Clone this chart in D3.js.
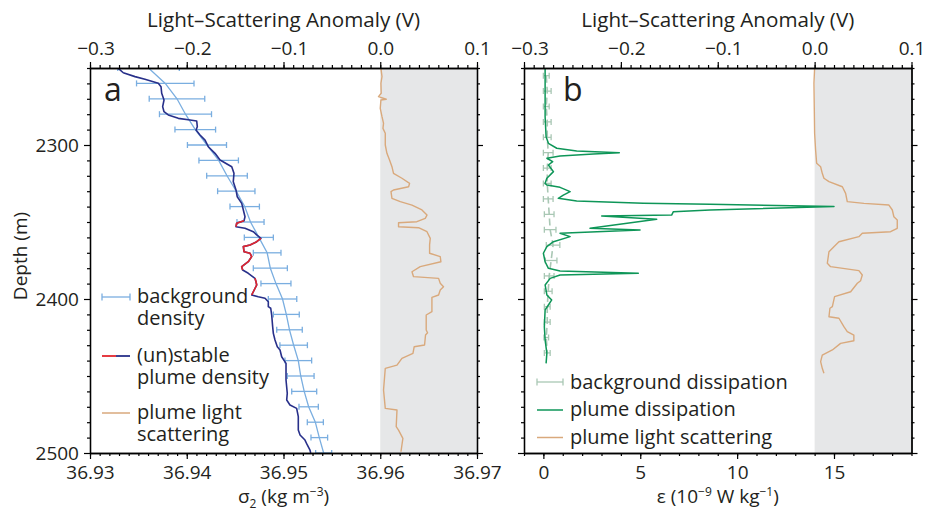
<!DOCTYPE html>
<html><head><meta charset="utf-8">
<script src="https://cdn.jsdelivr.net/npm/d3@7"></script>
<style>
body{margin:0;background:#fff}
svg{display:block}
text{font-family:'Open Sans',sans-serif;fill:#231f20}
</style>
</head><body>
<svg id="c" width="937" height="514"></svg>
<script>
// ---------- DATA ----------
// Panel a: background density (every 10 m) with error bars
const bgDepth = [2250,2260,2270,2280,2290,2300,2310,2320,2330,2340,2350,2360,2370,2380,2390,2400,2410,2420,2430,2440,2450,2460,2470,2480,2490,2500];
const bgSigma = [36.93605,36.93778,36.93899,36.93987,36.94088,36.94209,36.94330,36.94416,36.94512,36.94599,36.94659,36.94745,36.94831,36.94864,36.94922,36.94990,36.95029,36.95062,36.95105,36.95153,36.95178,36.95214,36.95260,36.95329,36.95370,36.95415];
const bgSigmaErr = [0.00318,0.00297,0.00287,0.00269,0.00210,0.00202,0.00204,0.00210,0.00193,0.00152,0.00140,0.00150,0.00143,0.00176,0.00155,0.00147,0.00134,0.00132,0.00142,0.00138,0.00138,0.00129,0.00100,0.00083,0.00086,0.00083];

// Panel a: plume density profile
const plumeDepth = [2250.2,2253.1,2255.6,2257.3,2259.9,2262.1,2266.4,2270.8,2275.1,2278.4,2280.5,2282.7,2283.8,2284.4,2288.1,2290.3,2293.5,2296.8,2301.1,2305.4,2309.7,2314.1,2318.4,2323.8,2329.2,2333.6,2337.9,2342.2,2346.6,2349.2,2350.8,2353.1,2354.1,2356.3,2358.4,2360.6,2362.8,2364.9,2366.0,2369.3,2370.3,2372.5,2375.8,2379.0,2381.2,2383.3,2386.6,2388.8,2390.9,2395.3,2397.4,2398.5,2399.5,2401.8,2405.0,2406.0,2410.4,2418.0,2422.3,2426.6,2431.0,2433.1,2437.5,2441.8,2452.6,2461.2,2465.6,2468.8,2471.0,2476.4,2485.1,2488.3,2491.6,2494.8,2498.1,2500];
const plumeSigma = [36.93292,36.93344,36.93465,36.93568,36.93706,36.93734,36.93741,36.93765,36.93751,36.93765,36.93809,36.93913,36.94034,36.94103,36.94109,36.94096,36.94137,36.94189,36.94223,36.94292,36.94344,36.94465,36.94488,36.94481,36.94509,36.94522,36.94568,36.94585,36.94602,36.94592,36.94516,36.94509,36.94602,36.94688,36.94723,36.94767,36.94723,36.94654,36.94585,36.94592,36.94654,36.94671,36.94636,36.94568,36.94578,36.94636,36.94705,36.94716,36.94723,36.94688,36.94671,36.94739,36.94809,36.94843,36.94843,36.94868,36.94878,36.94888,36.94895,36.94912,36.94936,36.94964,36.94981,36.95026,36.95026,36.95039,36.95033,36.95067,36.95136,36.95153,36.95153,36.95171,36.95222,36.95246,36.95274,36.95281];
// depth ranges where plume density is unstable (drawn red)
const unstableRanges = [[2349.0,2353.5],[2360.5,2381.5],[2386.5,2397.5]];

// Panel a: light scattering anomaly (V)
const lsaDepth = [2250.2,2255.6,2259.9,2266.4,2268.6,2270.3,2270.8,2276.2,2281.6,2285.9,2289.2,2292.4,2300.0,2305.4,2309.7,2314.1,2318.4,2321.6,2324.9,2327.1,2329.2,2330.3,2334.6,2336.8,2339.0,2342.2,2345.5,2347.6,2349.8,2350.5,2353.1,2353.7,2356.3,2360.6,2364.9,2370.3,2372.5,2375.8,2379.0,2382.3,2385.5,2386.6,2389.8,2392.0,2394.2,2397.4,2398.9,2408.2,2410.4,2420.1,2421.9,2423.4,2429.9,2431.0,2435.3,2438.5,2442.9,2445.0,2459.1,2471.0,2472.1,2482.9,2485.1,2490.5,2494.8,2499.2];
const lsaValue = [0.0007,0.0018,0.0007,0.0010,-0.0018,0.0062,0.0007,0.0000,0.0018,0.0034,0.0028,0.0052,0.0052,0.0069,0.0096,0.0121,0.0137,0.0224,0.0303,0.0293,0.0137,0.0111,0.0121,0.0207,0.0328,0.0431,0.0483,0.0465,0.0379,0.0189,0.0189,0.0396,0.0483,0.0517,0.0510,0.0510,0.0620,0.0627,0.0413,0.0328,0.0344,0.0603,0.0620,0.0654,0.0620,0.0603,0.0534,0.0534,0.0475,0.0475,0.0489,0.0468,0.0458,0.0351,0.0338,0.0224,0.0173,0.0052,0.0034,0.0052,0.0173,0.0165,0.0189,0.0234,0.0224,0.0214];

// Panel b: background dissipation (10^-9 W/kg) with error bars
const bgEpsDepth = [2255,2265,2275,2285,2295,2305,2315,2325,2335,2345,2355,2365,2375,2385,2395,2405,2415,2425,2435];
const bgEps = [0.15,0.20,0.15,0.20,0.20,0.25,0.20,0.20,0.25,0.30,0.35,0.50,0.40,0.30,0.25,0.20,0.20,0.15,0.20];
const bgEpsErr = [0.15,0.20,0.15,0.20,0.20,0.25,0.20,0.20,0.25,0.25,0.30,0.35,0.30,0.25,0.20,0.15,0.15,0.12,0.15];

// Panel b: plume dissipation
const epsDepth = [2250.2,2281.6,2294.6,2298.9,2302.1,2303.9,2305.0,2305.8,2307.1,2308.6,2310.8,2313.0,2317.3,2321.6,2324.9,2326.0,2327.5,2330.3,2332.5,2334.6,2336.4,2337.9,2338.5,2339.9,2342.2,2343.3,2345.5,2346.1,2348.2,2354.1,2355.2,2357.3,2359.5,2362.8,2366.0,2370.3,2375.8,2380.1,2381.8,2383.3,2384.4,2386.6,2390.9,2397.4,2400.6,2403.9,2407.1,2418.0,2426.6,2435.3,2441.8];
const epsValue = [0.09,0.09,0.14,0.26,0.69,1.72,3.92,2.58,0.86,0.18,0.48,0.26,0.52,0.18,0.09,0.18,0.86,1.38,1.03,0.77,1.72,5.16,8.60,15.0,8.60,6.71,6.62,3.01,5.85,2.41,4.99,0.86,1.38,0.52,0.18,0.00,0.09,0.26,0.86,4.90,0.86,0.35,0.09,0.18,0.43,0.26,0.09,0.05,0.09,0.18,0.14];

// Panel b: light scattering anomaly (V)
const lsbDepth = [2250.2,2259.9,2292.4,2303.2,2311.9,2314.1,2318.4,2321.6,2323.8,2327.1,2331.4,2336.8,2337.9,2339.0,2342.2,2346.6,2348.7,2354.1,2356.3,2357.3,2359.5,2362.8,2366.0,2369.3,2376.8,2379.0,2381.6,2384.4,2388.1,2389.8,2395.3,2398.5,2405.0,2406.0,2411.5,2412.5,2418.0,2421.2,2423.4,2427.1,2428.8,2433.1,2436.4,2440.7,2445.0,2448.2];
const lsbValue = [0.0000,-0.0007,0.0000,0.0010,0.0021,0.0062,0.0079,0.0096,0.0148,0.0286,0.0320,0.0337,0.0509,0.0767,0.0802,0.0818,0.0853,0.0853,0.0784,0.0492,0.0457,0.0251,0.0199,0.0148,0.0131,0.0165,0.0457,0.0492,0.0475,0.0441,0.0372,0.0206,0.0183,0.0158,0.0148,0.0251,0.0302,0.0337,0.0405,0.0405,0.0268,0.0183,0.0079,0.0062,0.0079,0.0096];

// Axis ticks / labels
const depthMajor = [2300,2400,2500];
const depthMinor = [2250,2260,2270,2280,2290,2310,2320,2330,2340,2350,2360,2370,2380,2390,2410,2420,2430,2440,2450,2460,2470,2480,2490];
const lsMajor = [-0.3,-0.2,-0.1,0.0,0.1];
const sigmaMajor = [36.93,36.94,36.95,36.96,36.97];
const epsMajor = [0,5,10,15];

// ---------- STYLE / LAYOUT ----------
const C = {lightBlue:"#7aaee0", navy:"#28308a", red:"#e3262e", tan:"#d9a97c", green:"#0e9658", bgDiss:"#a9c7b4", gray:"#e6e7e8"};
const FS = 19, LFS = 20;
const A = {x0:90, x1:477, y0:68, y1:453};
const B = {x0:524, x1:911.5, y0:68, y1:453};

const svg = d3.select("#c");
const y = d3.scaleLinear().domain([2250,2500]).range([A.y0, A.y1]);
const xSig = d3.scaleLinear().domain([36.93,36.97]).range([A.x0, A.x1]);
const xLa = d3.scaleLinear().domain([-0.3,0.1]).range([A.x0, A.x1]);
const xEps = d3.scaleLinear().domain([-1,19]).range([B.x0, B.x1]);
const xLb = d3.scaleLinear().domain([-0.3,0.1]).range([B.x0, B.x1]);

svg.append("rect").attr("x", xLa(0)).attr("y", A.y0).attr("width", A.x1 - xLa(0)).attr("height", A.y1 - A.y0).attr("fill", C.gray);
svg.append("rect").attr("x", xLb(0)).attr("y", B.y0).attr("width", B.x1 - xLb(0)).attr("height", B.y1 - B.y0).attr("fill", C.gray);

const defs = svg.append("defs");
defs.append("clipPath").attr("id","clipA").append("rect").attr("x",A.x0).attr("y",A.y0).attr("width",A.x1-A.x0).attr("height",A.y1-A.y0);
defs.append("clipPath").attr("id","clipB").append("rect").attr("x",B.x0).attr("y",B.y0).attr("width",B.x1-B.x0).attr("height",B.y1-B.y0);

const gA = svg.append("g").attr("clip-path","url(#clipA)");
const gB = svg.append("g").attr("clip-path","url(#clipB)");

// ---- Panel a ----
gA.append("path").datum(d3.range(lsaDepth.length))
  .attr("d", d3.line().x(i => xLa(lsaValue[i])).y(i => y(lsaDepth[i])))
  .attr("fill","none").attr("stroke",C.tan).attr("stroke-width",1.4).attr("stroke-linejoin","round");

gA.append("path").datum(d3.range(bgDepth.length))
  .attr("d", d3.line().x(i => xSig(bgSigma[i])).y(i => y(bgDepth[i])))
  .attr("fill","none").attr("stroke",C.lightBlue).attr("stroke-width",1.3);
const eb = gA.append("g").attr("stroke",C.lightBlue).attr("stroke-width",1.3);
bgDepth.forEach((d,i) => {
  const yy = y(d), xl = xSig(bgSigma[i]-bgSigmaErr[i]), xr = xSig(bgSigma[i]+bgSigmaErr[i]);
  eb.append("line").attr("x1",xl).attr("x2",xr).attr("y1",yy).attr("y2",yy);
  eb.append("line").attr("x1",xl).attr("x2",xl).attr("y1",yy-3).attr("y2",yy+3);
  eb.append("line").attr("x1",xr).attr("x2",xr).attr("y1",yy-3).attr("y2",yy+3);
});

const plumeLine = d3.line().x(i => xSig(plumeSigma[i])).y(i => y(plumeDepth[i]));
gA.append("path").datum(d3.range(plumeDepth.length)).attr("d", plumeLine)
  .attr("fill","none").attr("stroke",C.navy).attr("stroke-width",1.6).attr("stroke-linejoin","round");
unstableRanges.forEach(([a,b]) => {
  const idx = d3.range(plumeDepth.length).filter(i => plumeDepth[i] >= a && plumeDepth[i] <= b);
  gA.append("path").datum(idx).attr("d", plumeLine)
    .attr("fill","none").attr("stroke",C.red).attr("stroke-width",1.6).attr("stroke-linejoin","round");
});

// ---- Panel b ----
gB.append("path").datum(d3.range(lsbDepth.length))
  .attr("d", d3.line().x(i => xLb(lsbValue[i])).y(i => y(lsbDepth[i])))
  .attr("fill","none").attr("stroke",C.tan).attr("stroke-width",1.4).attr("stroke-linejoin","round");

gB.append("path").datum(d3.range(bgEpsDepth.length))
  .attr("d", d3.line().x(i => xEps(bgEps[i])).y(i => y(bgEpsDepth[i])))
  .attr("fill","none").attr("stroke",C.bgDiss).attr("stroke-width",1.6).attr("stroke-dasharray","7,4");
const eb2 = gB.append("g").attr("stroke",C.bgDiss).attr("stroke-width",1.3);
bgEpsDepth.forEach((d,i) => {
  const yy = y(d), xl = xEps(bgEps[i]-bgEpsErr[i]), xr = xEps(bgEps[i]+bgEpsErr[i]);
  eb2.append("line").attr("x1",xl).attr("x2",xr).attr("y1",yy).attr("y2",yy);
  eb2.append("line").attr("x1",xl).attr("x2",xl).attr("y1",yy-3).attr("y2",yy+3);
  eb2.append("line").attr("x1",xr).attr("x2",xr).attr("y1",yy-3).attr("y2",yy+3);
});

gB.append("path").datum(d3.range(epsDepth.length))
  .attr("d", d3.line().x(i => xEps(epsValue[i])).y(i => y(epsDepth[i])))
  .attr("fill","none").attr("stroke",C.green).attr("stroke-width",1.5).attr("stroke-linejoin","round");

// ---------- AXES ----------
function range(a,b,s){ const r=[]; for(let v=a; v<=b+1e-9; v+=s) r.push(+v.toFixed(4)); return r; }
function drawAxis(orient, scale, tx, ty, major, minor, fmt, pad){
  const mk = {top:d3.axisTop,bottom:d3.axisBottom,left:d3.axisLeft,right:d3.axisRight}[orient];
  const g1 = svg.append("g").attr("transform",`translate(${tx},${ty})`)
    .call(mk(scale).tickValues(minor).tickSize(3).tickSizeOuter(0).tickFormat(""));
  const g2 = svg.append("g").attr("transform",`translate(${tx},${ty})`)
    .call(mk(scale).tickValues(major).tickSize(6).tickSizeOuter(0).tickPadding(pad||6).tickFormat(fmt || (() => "")));
  [g1,g2].forEach(g => {
    g.selectAll("path.domain").attr("stroke","#000").attr("stroke-width",1.3);
    g.selectAll(".tick line").attr("stroke","#000").attr("stroke-width",1.2);
    g.selectAll("text").style("font-size",FS+"px").style("font-family","'Open Sans',sans-serif");
  });
  // negative labels: number part centred on the tick, minus sign hanging left
  if (orient === "top" || orient === "bottom")
    g2.selectAll(".tick text").attr("dx", d => d < 0 ? "0.29em" : null);
}
const fmtLS = d => d3.format(".1f")(d);
const lsMinor = range(-0.3,0.1,0.01);
drawAxis("top", xLa, 0, A.y0, lsMajor, lsMinor, fmtLS, 7);
drawAxis("bottom", xSig, 0, A.y1, sigmaMajor, range(36.93,36.97,0.001), d3.format(".2f"), 7);
drawAxis("left", y, A.x0, 0, depthMajor, depthMinor, d => d, 5);
drawAxis("right", y, A.x1, 0, depthMajor, depthMinor, null);
drawAxis("top", xLb, 0, B.y0, lsMajor, lsMinor, fmtLS, 7);
drawAxis("bottom", xEps, 0, B.y1, epsMajor, range(-1,19,1), d => d, 7);
drawAxis("left", y, B.x0, 0, depthMajor, depthMinor, null);
drawAxis("right", y, B.x1, 0, depthMajor, depthMinor, null);

// ---------- LABELS ----------
const T = (x, yy, s, opt={}) => {
  const t = svg.append("text").attr("x",x).attr("y",yy).attr("text-anchor",opt.anchor||"start")
    .style("font-size",(opt.size||FS)+"px").text(s);
  if (opt.len) t.attr("textLength", opt.len).attr("lengthAdjust","spacingAndGlyphs");
  return t;
};
T((A.x0+A.x1)/2, 27, "Light\u2013Scattering Anomaly (V)", {anchor:"middle", size:20, len:273});
T((B.x0+B.x1)/2, 27, "Light\u2013Scattering Anomaly (V)", {anchor:"middle", size:20, len:273});
svg.append("text").attr("transform","translate(27,256) rotate(-90)").attr("text-anchor","middle").style("font-size",FS+"px").text("Depth (m)");

const sl = svg.append("text").attr("x",(A.x0+A.x1)/2).attr("y",503).attr("text-anchor","middle").style("font-size",FS+"px");
sl.append("tspan").text("σ");
sl.append("tspan").attr("dy",5).style("font-size","12px").text("2");
sl.append("tspan").attr("dy",-5).text(" (kg m");
sl.append("tspan").attr("dy",-7).style("font-size","12px").text("\u22123");
sl.append("tspan").attr("dy",7).text(")");

const el = svg.append("text").attr("x",(B.x0+B.x1)/2).attr("y",503).attr("text-anchor","middle").style("font-size",FS+"px");
el.append("tspan").text("ε (10");
el.append("tspan").attr("dy",-7).style("font-size","12px").text("\u22129");
el.append("tspan").attr("dy",7).text(" W kg");
el.append("tspan").attr("dy",-7).style("font-size","12px").text("\u22121");
el.append("tspan").attr("dy",7).text(")");

T(104, 101, "a", {size:32});
T(563, 101, "b", {size:32});

// ---------- LEGENDS ----------
function ebGlyph(x1, x2, yy, col){
  const g = svg.append("g").attr("stroke",col).attr("stroke-width",1.3);
  g.append("line").attr("x1",x1).attr("x2",x2).attr("y1",yy).attr("y2",yy);
  g.append("line").attr("x1",x1).attr("x2",x1).attr("y1",yy-3.5).attr("y2",yy+3.5);
  g.append("line").attr("x1",x2).attr("x2",x2).attr("y1",yy-3.5).attr("y2",yy+3.5);
}
function lineGlyph(x1,x2,yy,col,w){
  svg.append("line").attr("x1",x1).attr("x2",x2).attr("y1",yy).attr("y2",yy).attr("stroke",col).attr("stroke-width",w||1.5);
}
function T2(x, yy, l1, l2){
  const t = svg.append("text").attr("x",x).attr("y",yy).style("font-size",LFS+"px");
  t.append("tspan").attr("x",x).text(l1);
  t.append("tspan").attr("x",x).attr("dy",22).text(l2);
}
ebGlyph(102, 130, 297, C.lightBlue);
T2(137, 303, "background", "density");
lineGlyph(102, 116, 356, C.red, 1.8); lineGlyph(116, 130, 356, C.navy, 1.8);
T2(137, 362, "(un)stable", "plume density");
lineGlyph(102, 130, 413, C.tan);
T2(137, 419, "plume light", "scattering");

ebGlyph(537, 563, 382, C.bgDiss);
T(570, 388.5, "background dissipation", {size:LFS});
lineGlyph(537, 563, 410, C.green);
T(570, 416, "plume dissipation", {size:LFS});
lineGlyph(537, 563, 437.5, C.tan);
T(570, 443.5, "plume light scattering", {size:LFS});
</script>
</body></html>
